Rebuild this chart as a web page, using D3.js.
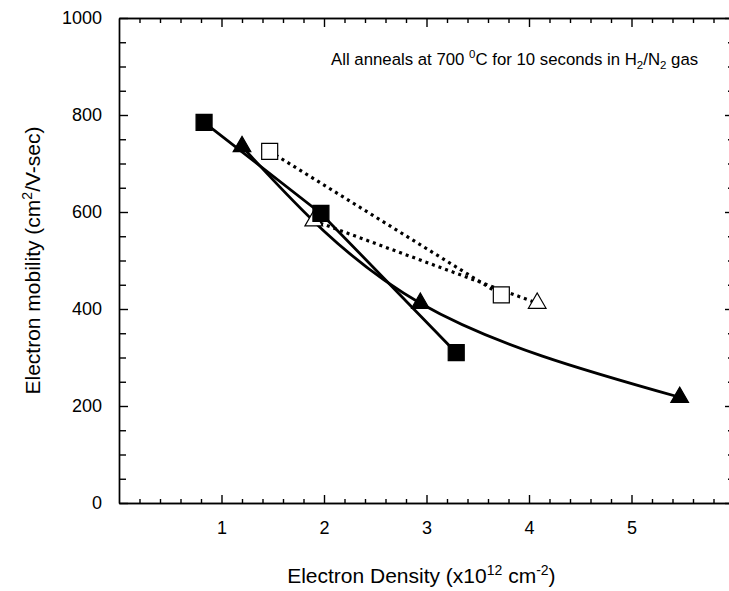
<!DOCTYPE html>
<meta charset="utf-8">

<style type="text/css">
  body { margin: 0; background: white; }
  svg { display: block; }

  .axis path, .axis line {
  	stroke: black;
  	stroke-width: 1.4;
  }
  .axis text {
  	font-family: "Liberation Sans", Arial, sans-serif;
  	font-size: 18px;
  	fill: black;
  }
  .label {
  	font-family: "Liberation Sans", Arial, sans-serif;
  	font-size: 21px;
  	fill: black;
  }
  .note {
  	font-family: "Liberation Sans", Arial, sans-serif;
  	font-size: 16.8px;
  	fill: black;
  }
  .solid-path {
  	stroke: black;
  	stroke-width: 2.8;
  	fill: none;
  }
  .dot-path {
  	stroke: black;
  	stroke-width: 3.2;
  	stroke-dasharray: 3 4;
  	fill: none;
  }
</style>

<body></body>

<script src="https://cdn.jsdelivr.net/npm/d3@7"></script>

<script>

// values
var xTicks = [1, 2, 3, 4, 5];
var yTicks = [0, 200, 400, 600, 800, 1000];

var sqFilledX = [0.83, 1.97, 3.29];
var sqFilledY = [785, 597, 310];

var triFilledX = [1.2, 2.94, 5.47];
var triFilledY = [735, 412, 218];

var sqOpenX = [1.47, 3.73];
var sqOpenY = [725, 429];

var triOpenX = [1.9, 4.08];
var triOpenY = [582, 412];

var W = 729, H = 591;
var margin = {top: 18, left: 119, bottom: 88};

var xscale = d3.scaleLinear()
	.domain([0, 6])
	.range([margin.left, margin.left + 6 * 102.5]);

var yscale = d3.scaleLinear()
	.domain([0, 1000])
	.range([H - margin.bottom, margin.top]);

var svg = d3.select("body").append("svg")
	.attr("width", W)
	.attr("height", H);

function pts(xs, ys) {
	return xs.map(function(x, i) { return {x: x, y: ys[i]}; });
}

var minorX = d3.range(0, 6.01, 0.2).filter(function(v) { return Math.abs(v - Math.round(v)) > 0.01; });
var minorY = d3.range(0, 1001, 50).filter(function(v) { return v % 200 != 0; });

// minor ticks first, then major ticks + labels (all pointing inward)
svg.append("g").attr("class", "axis")
	.attr("transform", "translate(0," + yscale(0) + ")")
	.call(d3.axisBottom(xscale).tickValues(minorX).tickSize(-4).tickFormat("").tickSizeOuter(0));
svg.append("g").attr("class", "axis")
	.attr("transform", "translate(0," + yscale(0) + ")")
	.call(d3.axisBottom(xscale).tickValues(xTicks).tickSize(-8).tickSizeOuter(0).tickPadding(18).tickFormat(d3.format("d")));

svg.append("g").attr("class", "axis")
	.attr("transform", "translate(0," + yscale(1000) + ")")
	.call(d3.axisTop(xscale).tickValues(minorX).tickSize(-5).tickFormat("").tickSizeOuter(0));
svg.append("g").attr("class", "axis")
	.attr("transform", "translate(0," + yscale(1000) + ")")
	.call(d3.axisTop(xscale).tickValues(xTicks).tickSize(-9).tickFormat("").tickSizeOuter(0));

svg.append("g").attr("class", "axis")
	.attr("transform", "translate(" + xscale(0) + ",0)")
	.call(d3.axisLeft(yscale).tickValues(minorY).tickSize(-7).tickFormat("").tickSizeOuter(0));
svg.append("g").attr("class", "axis")
	.attr("transform", "translate(" + xscale(0) + ",0)")
	.call(d3.axisLeft(yscale).tickValues(yTicks).tickSize(-9).tickSizeOuter(0).tickPadding(17).tickFormat(d3.format("d")));

svg.append("g").attr("class", "axis")
	.attr("transform", "translate(" + xscale(6) + ",0)")
	.call(d3.axisRight(yscale).tickValues(minorY).tickSize(-6).tickFormat("").tickSizeOuter(0));
svg.append("g").attr("class", "axis")
	.attr("transform", "translate(" + xscale(6) + ",0)")
	.call(d3.axisRight(yscale).tickValues(yTicks).tickSize(-9).tickFormat("").tickSizeOuter(0));

// lines
var straight = d3.line()
	.x(function(d) { return xscale(d.x); })
	.y(function(d) { return yscale(d.y); });
var smooth = d3.line()
	.curve(d3.curveNatural)
	.x(function(d) { return xscale(d.x); })
	.y(function(d) { return yscale(d.y); });

svg.append("path").attr("class", "dot-path").attr("d", straight(pts(sqOpenX, sqOpenY)));
svg.append("path").attr("class", "dot-path").attr("d", straight(pts(triOpenX, triOpenY)));
svg.append("path").attr("class", "solid-path").attr("d", straight(pts(sqFilledX, sqFilledY)));
svg.append("path").attr("class", "solid-path").attr("d", smooth(pts(triFilledX, triFilledY)));

// markers
var sq = d3.symbol().type(d3.symbolSquare).size(16 * 16);
var tri = d3.symbol().type(d3.symbolTriangle).size(135);

function markers(data, sym, fill) {
	svg.append("g").selectAll("path")
		.data(data)
		.enter()
		.append("path")
		.attr("transform", function(d) { return "translate(" + xscale(d.x) + "," + yscale(d.y) + ")"; })
		.attr("d", sym)
		.attr("fill", fill)
		.attr("stroke", "black")
		.attr("stroke-width", 1.2);
}
markers(pts(sqOpenX, sqOpenY), sq, "white");
markers(pts(triOpenX, triOpenY), tri, "white");
markers(pts(sqFilledX, sqFilledY), sq, "black");
markers(pts(triFilledX, triFilledY), tri, "black");

// axis titles
var yl = svg.append("text").attr("class", "label")
	.attr("text-anchor", "middle")
	.attr("transform", "translate(40," + yscale(500) + ") rotate(-90)");
yl.append("tspan").text("Electron mobility (cm");
yl.append("tspan").attr("dy", -8).attr("font-size", 14).text("2");
yl.append("tspan").attr("dy", 8).text("/V-sec)");

var xl = svg.append("text").attr("class", "label")
	.attr("text-anchor", "middle")
	.attr("x", xscale(2.95))
	.attr("y", 583);
xl.append("tspan").text("Electron Density (x10");
xl.append("tspan").attr("dy", -8).attr("font-size", 14).text("12");
xl.append("tspan").attr("dy", 8).text(" cm");
xl.append("tspan").attr("dy", -8).attr("font-size", 14).text("-2");
xl.append("tspan").attr("dy", 8).text(")");

// note
var note = svg.append("text").attr("class", "note")
	.attr("x", 331)
	.attr("y", 65);
note.append("tspan").text("All anneals at 700 ");
note.append("tspan").attr("dy", -7).attr("font-size", 11.5).text("0");
note.append("tspan").attr("dy", 7).text("C for 10 seconds in H");
note.append("tspan").attr("dy", 4).attr("font-size", 11.5).text("2");
note.append("tspan").attr("dy", -4).text("/N");
note.append("tspan").attr("dy", 4).attr("font-size", 11.5).text("2");
note.append("tspan").attr("dy", -4).text(" gas");

</script>
